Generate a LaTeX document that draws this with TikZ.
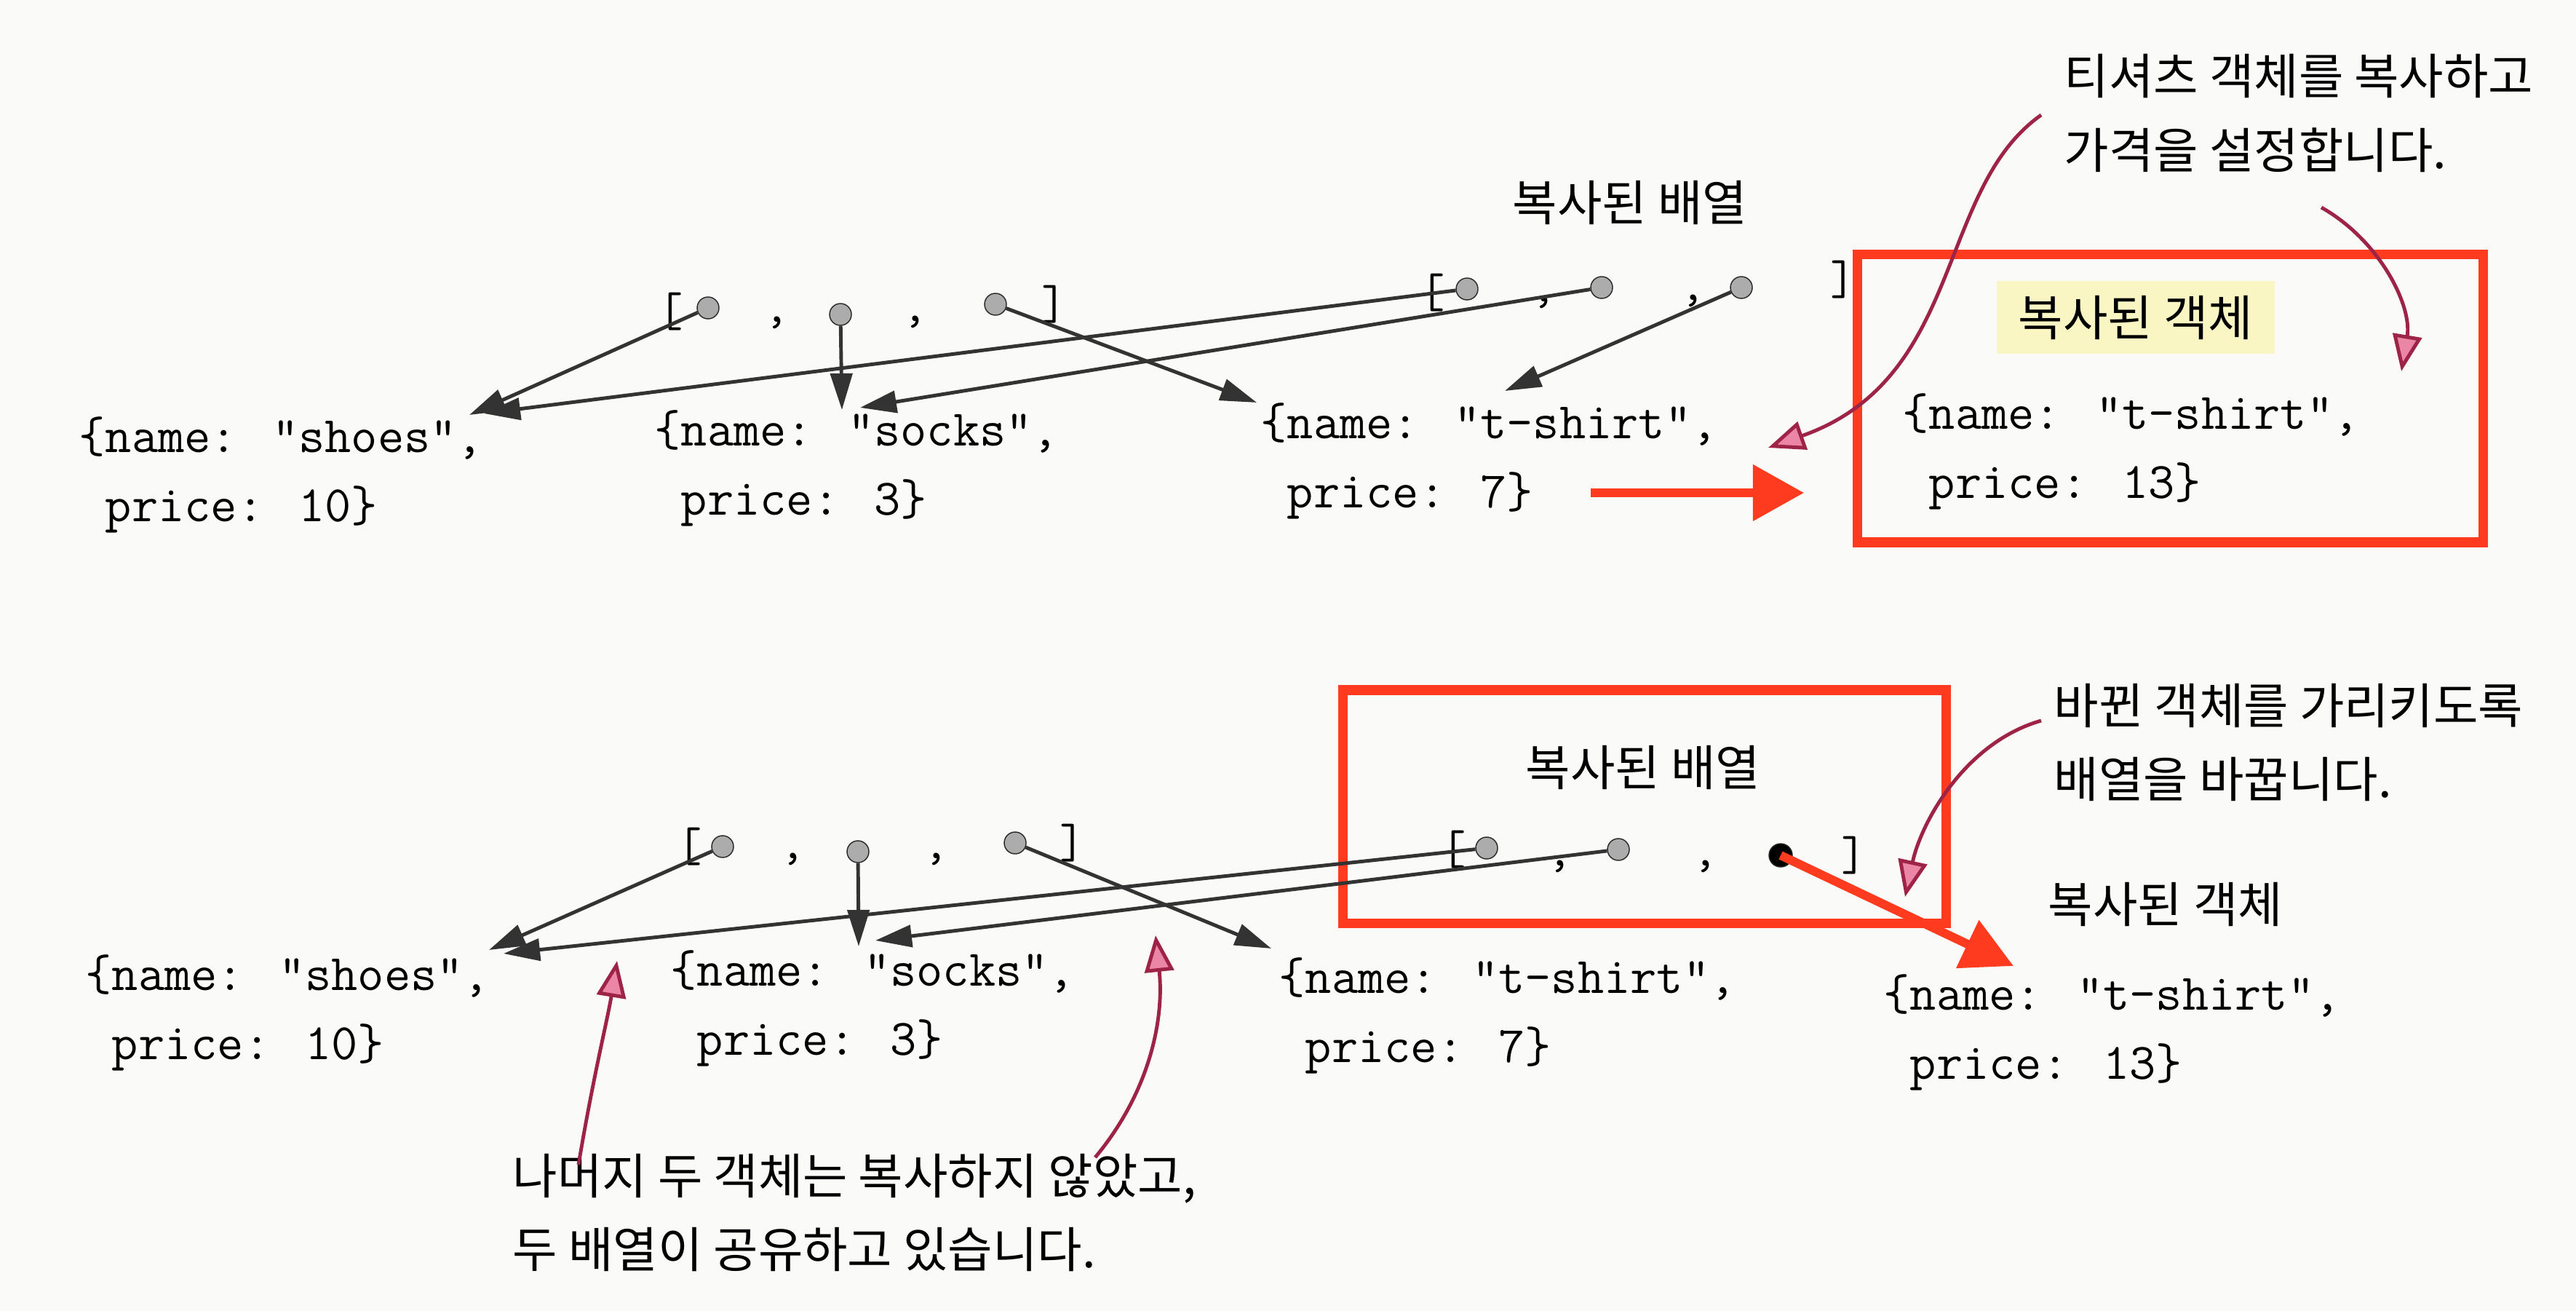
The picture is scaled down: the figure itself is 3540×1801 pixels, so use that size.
\documentclass[tikz,border=0pt]{standalone}
\usepackage{fontspec}
\usepackage{xcolor}
\usepackage{tikz}
\usetikzlibrary{arrows.meta}
\newfontfamily\krfont{Noto Sans CJK KR}

\definecolor{markred}{HTML}{FF3B1F}
\definecolor{ptrgray}{HTML}{333333}
\definecolor{hintline}{HTML}{9E2447}
\definecolor{hintpink}{HTML}{EC86A6}
\definecolor{hilite}{HTML}{F9F6C4}
\definecolor{paper}{HTML}{FAFAF8}

\begin{document}
\begin{tikzpicture}[x=0.01cm, y=-0.01cm,
  obj/.style={font=\ttfamily\fontsize{20}{27}\selectfont, align=left, anchor=west, inner sep=0pt},
  tok/.style={font=\ttfamily\fontsize{19}{19}\selectfont, inner sep=0pt},
  slot/.style={circle, draw=black!85, fill=gray!65, minimum size=0.3cm, inner sep=0pt},
  krtext/.style={font=\krfont\fontsize{19}{29}\selectfont, inner sep=0pt},
  note/.style={font=\krfont\fontsize{19}{29}\selectfont, align=left, anchor=west, inner sep=0pt},
  ptr/.style={draw=ptrgray, line width=1.4pt, -{Triangle[length=0.5cm, width=0.3cm]}},
  hint/.style={draw=hintline, line width=1.4pt, -{Triangle[length=0.5cm, width=0.4cm, fill=hintpink]}},
  bigarr/.style={draw=markred, line width=0.11cm, -{Triangle[length=0.7cm, width=0.75cm]}},
  frame/.style={draw=markred, line width=0.13cm}
]
\fill[paper] (0,0) rectangle (3540,1801);
\useasboundingbox (0,0) rectangle (3540,1801);

% top: copied array, copied object
\node[krtext] at (2240,278) (copyArrA) {복사된 배열};

\node[tok] at (922,428)  (obrA) {[};
\node[slot] at (973,423)  (oA1) {};
\node[tok] at (1068,443) {,};
\node[slot] at (1155,432) (oA2) {};
\node[tok] at (1258,442) {,};
\node[slot] at (1368,418) (oA3) {};
\node[tok] at (1449,418) (ocbA) {]};

\node[tok] at (1969,402) (cbrA) {[};
\node[slot] at (2016,397) (cA1) {};
\node[tok] at (2122,415) {,};
\node[slot] at (2201,395) (cA2) {};
\node[tok] at (2327,413) {,};
\node[slot] at (2393,395) (cA3) {};
\node[tok] at (2533,384) (ccbA) {]};

\node[obj] at (108,652)  (shoesA) {\{name: "shoes",\\\phantom{\{}price: 10\}};
\node[obj] at (899,643)  (socksA) {\{name: "socks",\\\phantom{\{}price: 3\}};
\node[obj] at (1732,633) (shirtA) {\{name: "t-shirt",\\\phantom{\{}price: 7\}};
\node[obj] at (2614,620) (newShirtA) {\{name: "t-shirt",\\\phantom{\{}price: 13\}};

\node[krtext, fill=hilite, inner xsep=0.3cm, inner ysep=0.2cm] at (2935,436) (copyObjA) {복사된 객체};
\draw[frame] (2552,350) rectangle (3412,745);

\node[note] at (2836,156) (noteA) {티셔츠 객체를 복사하고\\가격을 설정합니다.};

\coordinate (shoesA-in1) at (645,570);
\coordinate (shoesA-in2) at (665,568);
\coordinate (socksA-in1) at (1157,563);
\coordinate (socksA-in2) at (1182,560);
\coordinate (shirtA-in1) at (1727,553);
\coordinate (shirtA-in2) at (2068,537);
\draw[ptr] (oA1) -- (shoesA-in1);
\draw[ptr] (oA2) -- (socksA-in1);
\draw[ptr] (oA3) -- (shirtA-in1);
\draw[ptr] (cA1) -- (shoesA-in2);
\draw[ptr] (cA2) -- (socksA-in2);
\draw[ptr] (cA3) -- (shirtA-in2);

\coordinate (pushA-from) at (2186,677);
\coordinate (pushA-to) at (2479,677);
\draw[bigarr] (pushA-from) -- (pushA-to);

\coordinate (noteA-from1) at (2805,158);
\coordinate (noteA-to1) at (2430,615);
\coordinate (noteA-from2) at (3190,285);
\coordinate (noteA-to2) at (3300,510);
\draw[hint] (noteA-from1) .. controls (2660,260) and (2700,520) .. (noteA-to1);
\draw[hint] (noteA-from2) .. controls (3270,330) and (3315,420) .. (noteA-to2);

% bottom: array now points at the new object
\draw[frame] (1845,948) rectangle (2674,1268);
\node[krtext] at (2258,1054) (copyArrB) {복사된 배열};

\node[tok] at (948,1163)  (obrB) {[};
\node[slot] at (993,1163)  (oB1) {};
\node[tok] at (1090,1180) {,};
\node[slot] at (1179,1170) (oB2) {};
\node[tok] at (1287,1180) {,};
\node[slot] at (1395,1158) (oB3) {};
\node[tok] at (1474,1158) (ocbB) {]};

\node[tok] at (1998,1167) (cbrB) {[};
\node[slot] at (2043,1165) (cB1) {};
\node[tok] at (2144,1190) {,};
\node[slot] at (2224,1167) (cB2) {};
\node[tok] at (2344,1190) {,};
\node[slot, fill=black, minimum size=0.32cm] at (2447,1175) (cB3) {};
\node[tok] at (2548,1175) (ccbB) {]};

\node[obj] at (117,1391)  (shoesB) {\{name: "shoes",\\\phantom{\{}price: 10\}};
\node[obj] at (921,1385)  (socksB) {\{name: "socks",\\\phantom{\{}price: 3\}};
\node[obj] at (1757,1395) (shirtB) {\{name: "t-shirt",\\\phantom{\{}price: 7\}};
\node[krtext] at (2976,1242) (copyObjB) {복사된 객체};
\node[obj] at (2588,1418) (newShirtB) {\{name: "t-shirt",\\\phantom{\{}price: 13\}};

\node[note] at (2822,1020) (noteB) {바뀐 객체를 가리키도록\\배열을 바꿉니다.};
\node[note] at (704,1666) (noteC) {나머지 두 객체는 복사하지 않았고,\\두 배열이 공유하고 있습니다.};

\coordinate (shoesB-in1) at (672,1305);
\coordinate (shoesB-in2) at (692,1310);
\coordinate (socksB-in1) at (1180,1300);
\coordinate (socksB-in2) at (1203,1292);
\coordinate (shirtB-in1) at (1747,1303);
\draw[ptr] (oB1) -- (shoesB-in1);
\draw[ptr] (oB2) -- (socksB-in1);
\draw[ptr] (oB3) -- (shirtB-in1);
\draw[ptr] (cB1) -- (shoesB-in2);
\draw[ptr] (cB2) -- (socksB-in2);

\coordinate (newShirtB-in) at (2767,1327);
\draw[draw=markred, line width=0.12cm, -{Triangle[length=0.7cm, width=0.7cm]}] (cB3.center) -- (newShirtB-in);

\coordinate (noteB-from) at (2805,990);
\coordinate (noteB-to) at (2618,1232);
\draw[hint] (noteB-from) .. controls (2700,1020) and (2640,1130) .. (noteB-to);

\coordinate (noteC-from1) at (795,1600);
\coordinate (noteC-to1) at (848,1320);
\coordinate (noteC-from2) at (1505,1590);
\coordinate (noteC-to2) at (1588,1285);
\draw[hint] (noteC-from1) .. controls (815,1480) and (835,1400) .. (noteC-to1);
\draw[hint] (noteC-from2) .. controls (1580,1500) and (1600,1400) .. (noteC-to2);
\end{tikzpicture}
\end{document}
